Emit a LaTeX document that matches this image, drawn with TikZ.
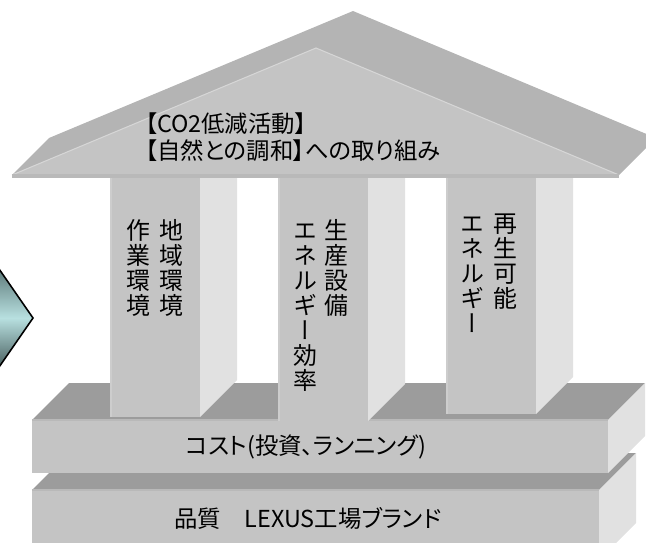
\documentclass[tikz,border=0pt]{standalone}
\usepackage{fontspec}
\usepackage{tikz}
\usetikzlibrary{positioning, calc}

\newfontfamily\jpfont[RawFeature=+palt]{Noto Sans CJK JP}
\newfontfamily\jpvert[RawFeature=+vert]{Noto Sans CJK JP}

\definecolor{frontgray}{HTML}{C4C4C4}
\definecolor{roofgray}{HTML}{B4B4B4}
\definecolor{slabgray}{HTML}{9C9C9C}
\definecolor{sidegray}{HTML}{E1E1E1}
\definecolor{edgegray}{HTML}{B9B9B9}
\definecolor{tealdark}{HTML}{587474}
\definecolor{teallight}{HTML}{B8E0E0}

\begin{document}
\begin{tikzpicture}[x=0.02cm, y=-0.02cm,
        frontface/.style={fill=frontgray},
        sideface/.style={fill=sidegray},
        topface/.style={fill=slabgray},
        roofnote/.style={font=\jpfont\fontsize{13.3}{15.3}\selectfont, align=left, inner sep=0pt},
        slabnote/.style={font=\jpfont\fontsize{13.3}{15}\selectfont, inner sep=0pt},
        pillarnote/.style={font=\jpvert\fontsize{13.6}{14.2}\selectfont, align=center, inner sep=0pt, anchor=north}
    ]
        \def\pw{90}
        \def\dd{37}
        \def\rooflow{178}

        \useasboundingbox (0,0) rectangle (646,542);
        \clip (0,0) rectangle (646,542);

        % arrow at the left border
        \coordinate (tip) at (33,318);
        \shade[top color=tealdark, bottom color=tealdark!75!black, middle color=teallight]
            (-3,266) -- (tip) -- (-3,370) -- cycle;
        \draw[black, line width=0.9pt, line join=miter] (-3,266) -- (tip) -- (-3,370);

        % base slabs: name/left/right/top/bottom
        \foreach \name/\l/\r/\t/\b in {quality/32/599/490/560, cost/32/608/420/473}{
            \fill[topface] (\l,\t) -- (\l+\dd,\t-\dd) -- (\r+\dd,\t-\dd) -- (\r,\t) -- cycle;
            \fill[sideface] (\r,\t) -- (\r+\dd,\t-\dd) -- (\r+\dd,\b-\dd) -- (\r,\b) -- cycle;
            \fill[frontface] (\l,\t) rectangle (\r,\b);
            \draw[edgegray, line width=1.2pt] (\l,\t) -- (\r,\t);
            \coordinate (\name) at ($(\l,\t)!0.5!(\r,\b)$);
        }

        % pillars: left/bottom
        \foreach \x/\b [count=\i] in {110/417, 278/421, 446/414}{
            \fill[sideface] (\x+\pw,\rooflow) -- (\x+\pw+\dd,\rooflow) -- (\x+\pw+\dd,\b-\dd) -- (\x+\pw,\b) -- cycle;
            \fill[frontface] (\x,\rooflow) rectangle (\x+\pw,\b);
            \draw[frontgray!85!white, line width=1pt] (\x+1,\rooflow) -- (\x+1,\b);
            \coordinate (pillar\i) at (\x+\pw/2,\b);
        }

        % roof
        \coordinate (eaveL) at (12,175);
        \coordinate (ridge) at (316,48);
        \coordinate (eaveR) at (619,175);
        \fill[roofgray] (eaveL) -- ++(\dd,-\dd) -- ($(ridge)+(\dd,-\dd)$)
            -- ($(eaveR)+(\dd,-\dd)$) -- (eaveR) -- (ridge) -- cycle;
        \fill[frontface] (eaveL) -- (ridge) -- (eaveR) -- cycle;
        \draw[frontgray!70!white, line width=0.6pt] (eaveL) -- (ridge) -- (eaveR);
        \fill[edgegray] (12,174) rectangle (619,\rooflow);

        % texts
        \node[roofnote, anchor=west] (rooftext) at (145,137) {【CO2低減活動】\\【自然との調和】への取り組み};

        \node[pillarnote] (envA) at (171,219) {地\\域\\環\\境};
        \node[pillarnote] (envB) at (138,219) {作\\業\\環\\境};
        \node[pillarnote] (effA) at (336,219) {生\\産\\設\\備};
        \node[pillarnote] (effB) at (305,219) {\vphantom{生}エ\\ネ\\ル\\ギ\\ー\\効\\率};
        \node[pillarnote] (renA) at (505,214) {再\\生\\可\\能};
        \node[pillarnote] (renB) at (472,214) {\vphantom{再}エ\\ネ\\ル\\ギ\\ー};

        \node[slabnote] (costtext) at (306,447) {コスト(投資、ランニング)};
        \node[slabnote] (brandtext) at (308,518) {品質　LEXUS工場ブランド};
    \end{tikzpicture}
\end{document}
